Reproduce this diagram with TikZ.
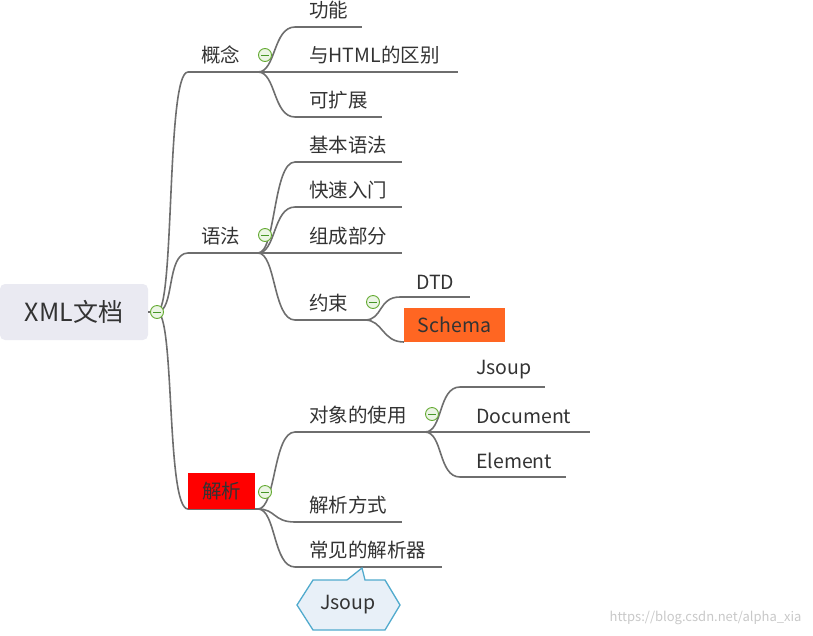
\documentclass[tikz,border=0pt]{standalone}
\usepackage{fontspec}
\setmainfont{Noto Sans CJK SC}
\usetikzlibrary{shapes.geometric}
\definecolor{ln}{HTML}{6E6E6E}
\definecolor{tx}{HTML}{333333}
\definecolor{fgb}{HTML}{64AA32}
\definecolor{fgf}{HTML}{EBF5E4}
\definecolor{fgm}{HTML}{469628}
\definecolor{rootc}{HTML}{EAEAF2}
\definecolor{schc}{HTML}{FF6622}
\definecolor{clb}{HTML}{50AACD}
\definecolor{clf}{HTML}{E8F0F8}
\definecolor{wmc}{HTML}{C8C8C8}
\tikzset{
  br/.style={draw=ln,line width=1.6pt},
  fnt/.style={font=\fontsize{19.5}{19.5}\selectfont},
  lbl/.style={anchor=south west,inner sep=0pt,text=tx,fnt},
  fold/.style={circle,draw=fgb,line width=0.9pt,fill=fgf,minimum size=13pt,inner sep=0pt,
    path picture={\draw[fgm,line width=1pt] ([xshift=-4pt]path picture bounding box.center)--([xshift=4pt]path picture bounding box.center);}},
}
\newcommand{\conn}[2]{\draw[br] (#1) .. controls +(18,0) and +(-22,0) .. (#2);}
\begin{document}
\begin{tikzpicture}[x=1pt,y=-1pt]
\useasboundingbox (0,0) rectangle (813,635);
% root
\node[fill=rootc,rounded corners=5pt,minimum width=148pt,minimum height=56pt,inner sep=0pt,text=tx,font=\fontsize{25}{25}\selectfont] (root) at (74,312) {XML文档};
\coordinate (r) at (157,312);
% level 1 underlines
\coordinate (a1) at (188,72); \coordinate (a2) at (258,72);
\coordinate (b1) at (188,253); \coordinate (b2) at (258,253);
\coordinate (c1) at (188,509); \coordinate (c2) at (258,509);
\draw[br] (root.east)--(r);
\conn{r}{a1}\conn{r}{b1}\conn{r}{c1}
\draw[br] (a1)--(a2); \draw[br] (b1)--(b2); \draw[br] (c1)--(c2);
\node[lbl] (ta) at (201,64) {概念};
\node[lbl] (tb) at (201,245) {语法};
\node[fill=red,minimum width=67pt,minimum height=36pt,inner sep=0pt,text=tx,fnt] (tc) at (221.5,491) {解析};
% children of 概念
\foreach \n/\y/\e/\t in {a11/27/362/功能,a12/72/458/与HTML的区别,a13/117/382/可扩展}{
  \coordinate (\n s) at (295,\y); \coordinate (\n e) at (\e,\y);
  \conn{a2}{\n s} \draw[br] (\n s)--(\n e);
  \node[lbl] (\n) at (309,\y-8) {\t};
}
% children of 语法
\foreach \n/\y/\e/\t in {b11/162/402/基本语法,b12/207/402/快速入门,b13/253/402/组成部分,b14/320/365/约束}{
  \coordinate (\n s) at (295,\y); \coordinate (\n e) at (\e,\y);
  \conn{b2}{\n s} \draw[br] (\n s)--(\n e);
  \node[lbl] (\n) at (309,\y-8) {\t};
}
% children of 约束
\coordinate (dts) at (400,297); \coordinate (dte) at (470,297);
\conn{b14e}{dts} \draw[br] (dts)--(dte);
\node[lbl] (dtd) at (416,290) {DTD};
\coordinate (sch) at (404,342);
\conn{b14e}{sch}
\node[fill=schc,minimum width=101pt,minimum height=34pt,inner sep=0pt,text=tx,fnt] (schema) at (454.5,325) {Schema};
% children of 解析
\foreach \n/\y/\e/\t in {c11/432/425/对象的使用,c12/522/402/解析方式,c13/567/442/常见的解析器}{
  \coordinate (\n s) at (295,\y); \coordinate (\n e) at (\e,\y);
  \conn{c2}{\n s} \draw[br] (\n s)--(\n e);
  \node[lbl] (\n) at (309,\y-8) {\t};
}
% children of 对象的使用
\foreach \n/\y/\e/\t in {d1/387/545/Jsoup,d2/432/590/Document,d3/477/566/Element}{
  \coordinate (\n s) at (460,\y); \coordinate (\n e) at (\e,\y);
  \conn{c11e}{\n s} \draw[br] (\n s)--(\n e);
  \node[lbl] (\n) at (476,\y-8) {\t};
}
% fold markers
\node[fold] (f0) at (157,312) {};
\node[fold] (f1) at (265,55) {};
\node[fold] (f2) at (265,235) {};
\node[fold] (f3) at (373,302) {};
\node[fold] (f4) at (265,492) {};
\node[fold] (f5) at (432,414) {};
% callout
\draw[draw=clb,line width=1.3pt,fill=clf,line join=miter]
  (313,580) -- (347,580) -- (362,568) -- (365,580) -- (385,580) -- (400,605) -- (385,630) -- (313,630) -- (297,605) -- cycle;
\node[text=tx,fnt] (js) at (348,605) {Jsoup};
% watermark
\node[anchor=east,text=wmc,font=\fontsize{13}{13}\selectfont] (wm) at (805,618) {https://blog.csdn.net/alpha\_xia};
\end{tikzpicture}
\end{document}
